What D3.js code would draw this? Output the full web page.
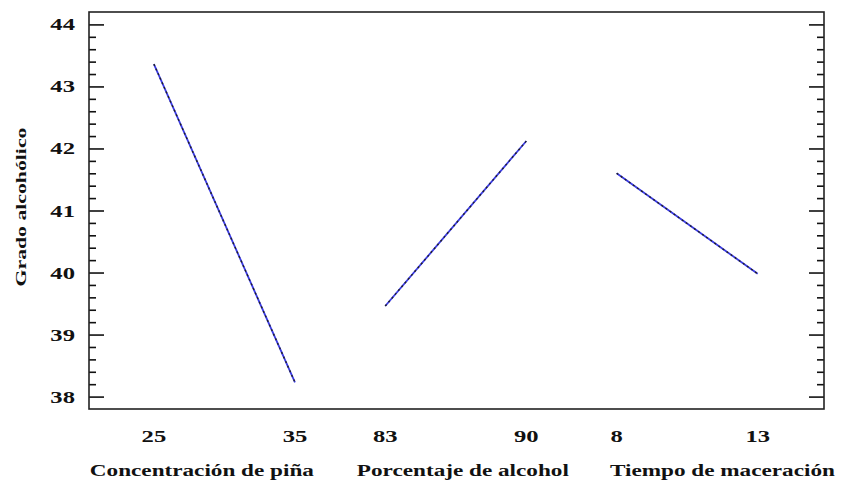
<!DOCTYPE html>
<html>
<head>
	<meta charset="utf-8">
	<script src="https://cdn.jsdelivr.net/npm/d3@7"></script>
	<style>
		html, body { padding: 0; margin: 0; background: #fff; }
		text { font-family: "Liberation Serif", "DejaVu Serif", serif; font-weight: bold; fill: #111; }
	</style>
</head>
<body>
	<script>
		var width = 845, height = 492;

		// main effects: one factor per segment, low and high level
		var factors = ["Concentración de piña", "Porcentaje de alcohol", "Tiempo de maceración"];
		var lowLevels = ["25", "83", "8"];
		var highLevels = ["35", "90", "13"];
		var lowMeans = [43.36, 39.46, 41.60];
		var highMeans = [38.23, 42.12, 39.98];
		var yTicks = [38, 39, 40, 41, 42, 43, 44];
		var yTitle = "Grado alcohólico";

		var gap = 0.64;
		var plotLeft = 89, plotRight = 824, plotTop = 12, plotBottom = 409;
		var stretch = 1.45; // the original text is drawn wide

		var svg = d3.select("body").append("svg")
			.attr("width", width)
			.attr("height", height);

		var x = d3.scaleLinear()
			.domain([-0.46, 2 * (1 + gap) + 1 + 0.47])
			.range([plotLeft, plotRight]);

		var y = d3.scaleLinear()
			.domain([37.8, 44.2])
			.range([plotBottom, plotTop]);

		function wideText(px, py, str, size, anchor, rot) {
			svg.append("text")
				.attr("transform", "translate(" + px + "," + py + ")" + (rot ? " rotate(" + rot + ")" : "") + " scale(" + stretch + ",1)")
				.attr("text-anchor", anchor || "middle")
				.style("font-size", size + "px")
				.text(str);
		}

		// minor + major ticks on both sides, pointing inward
		var minor = d3.range(38, 44.01, 0.2).filter(function (v) { return Math.abs(v - Math.round(v)) > 0.01; });

		function ticks(g) { g.select(".domain").remove(); }

		svg.append("g")
			.attr("transform", "translate(" + plotLeft + ",0)")
			.call(d3.axisRight(y).tickValues(minor).tickSize(7).tickFormat(""))
			.call(ticks);
		svg.append("g")
			.attr("transform", "translate(" + plotLeft + ",0)")
			.call(d3.axisRight(y).tickValues(yTicks).tickSize(15).tickFormat(""))
			.call(ticks);
		svg.append("g")
			.attr("transform", "translate(" + plotRight + ",0)")
			.call(d3.axisLeft(y).tickValues(minor).tickSize(7).tickFormat(""))
			.call(ticks);
		svg.append("g")
			.attr("transform", "translate(" + plotRight + ",0)")
			.call(d3.axisLeft(y).tickValues(yTicks).tickSize(15).tickFormat(""))
			.call(ticks);
		svg.selectAll(".tick line").attr("stroke", "#111").attr("stroke-width", 1.6);

		// tick labels on the left
		yTicks.forEach(function (d) {
			wideText(75, y(d) + 6, d, 17, "end");
		});

		// frame
		svg.append("rect")
			.attr("x", plotLeft).attr("y", plotTop)
			.attr("width", plotRight - plotLeft).attr("height", plotBottom - plotTop)
			.attr("fill", "none")
			.attr("stroke", "#222")
			.attr("stroke-width", 1.6);

		wideText(26, 207, yTitle, 15, "middle", -90);

		// label centres for the factor names, in x units
		var nameAt = [0.34, 2.19, 4.03];

		// effect lines
		factors.forEach(function (f, i) {
			var x0 = x(i * (1 + gap)), x1 = x(i * (1 + gap) + 1);
			var pts = [[x0, y(lowMeans[i])], [x1, y(highMeans[i])]];
			svg.append("path")
				.attr("d", d3.line()(pts))
				.attr("stroke", "#3a3ae6")
				.attr("stroke-width", 1.8)
				.attr("fill", "none");
			svg.append("path")
				.attr("d", d3.line()(pts))
				.attr("stroke", "#222")
				.attr("stroke-width", 1.4)
				.attr("stroke-dasharray", "2,3")
				.attr("fill", "none");

			wideText(x0, 442, lowLevels[i], 17);
			wideText(x1, 442, highLevels[i], 17);
			wideText(x(nameAt[i]), 476, f, 16);
		});
	</script>
</body>
</html>
